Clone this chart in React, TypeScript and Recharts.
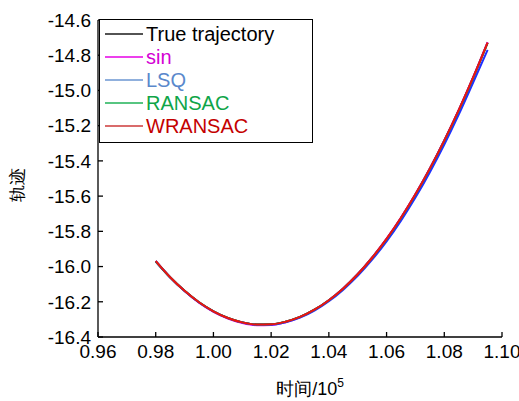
import React from 'react';
import { LineChart, Line, XAxis, YAxis } from 'recharts';

const xValues = [0.980, 0.985, 0.990, 0.995, 1.000, 1.005, 1.010, 1.015, 1.020, 1.025, 1.030, 1.035, 1.040, 1.045, 1.050, 1.055, 1.060, 1.065, 1.070, 1.075, 1.080, 1.085, 1.090, 1.095];
const trueTraj = [-15.970, -16.061, -16.138, -16.203, -16.254, -16.292, -16.317, -16.329, -16.328, -16.313, -16.286, -16.245, -16.191, -16.124, -16.044, -15.950, -15.844, -15.724, -15.591, -15.445, -15.286, -15.114, -14.928, -14.730];
const sinFit = [-15.968, -16.060, -16.139, -16.205, -16.257, -16.295, -16.321, -16.333, -16.332, -16.316, -16.288, -16.246, -16.191, -16.123, -16.042, -15.948, -15.841, -15.721, -15.588, -15.441, -15.282, -15.110, -14.924, -14.725];
const lsqFit = [-15.972, -16.062, -16.139, -16.204, -16.255, -16.293, -16.318, -16.330, -16.330, -16.316, -16.290, -16.250, -16.197, -16.131, -16.053, -15.961, -15.857, -15.739, -15.608, -15.464, -15.307, -15.137, -14.955, -14.770];
const ransacFit = [-15.970, -16.061, -16.138, -16.203, -16.254, -16.292, -16.317, -16.329, -16.328, -16.313, -16.286, -16.245, -16.191, -16.124, -16.044, -15.950, -15.844, -15.724, -15.591, -15.445, -15.286, -15.114, -14.928, -14.730];
const wransacFit = [-15.969, -16.061, -16.138, -16.203, -16.254, -16.292, -16.317, -16.329, -16.328, -16.313, -16.286, -16.245, -16.191, -16.124, -16.044, -15.950, -15.843, -15.723, -15.590, -15.444, -15.285, -15.112, -14.926, -14.728];

const xTicks = [0.96, 0.98, 1.0, 1.02, 1.04, 1.06, 1.08, 1.1];
const yTicks = [-16.4, -16.2, -16.0, -15.8, -15.6, -15.4, -15.2, -15.0, -14.8, -14.6];

const legendItems = [
    { name: 'True trajectory', line: '#1a1a1a', text: '#000000' },
    { name: 'sin', line: '#e600e6', text: '#d400d4' },
    { name: 'LSQ', line: '#6b96d2', text: '#5a88cc' },
    { name: 'RANSAC', line: '#1fb257', text: '#0fa548' },
    { name: 'WRANSAC', line: '#cc3a3a', text: '#c40000' },
];

const data = xValues.map((x, i) => ({
    x,
    trueTraj: trueTraj[i],
    sin: sinFit[i],
    lsq: lsqFit[i],
    ransac: ransacFit[i],
    wransac: wransacFit[i],
}));

const FONT = '"Liberation Sans", Arial, sans-serif';

const LegendBox = () => (
    <div style={{ position: 'absolute', left: 99, top: 19, width: 214, height: 124, background: '#fff', border: '1px solid #000', boxSizing: 'border-box', fontFamily: FONT, fontSize: 20, paddingTop: 3 }}>
        {legendItems.map((it) => (
            <div key={it.name} style={{ display: 'flex', alignItems: 'center', height: 22.8, lineHeight: '22px' }}>
                <svg width={47} height={4} style={{ marginLeft: 5 }}>
                    <line x1={0} y1={2} x2={38} y2={2} stroke={it.line} strokeWidth={1.5} />
                </svg>
                <span style={{ color: it.text, marginLeft: -6 }}>{it.name}</span>
            </div>
        ))}
    </div>
);

const XLabel = (props: any) => {
    const { viewBox } = props;
    const cx = viewBox.x + viewBox.width / 2 + 10;
    return (
        <text x={cx} y={395} textAnchor="middle" fontSize={18} fontFamily={FONT} fill="#000">
            时间/10<tspan fontSize={12} dy={-8}>5</tspan>
        </text>
    );
};

const YLabel = () => (
    <text x={23} y={185} textAnchor="middle" fontSize={17} fontFamily={FONT} fill="#000" transform="rotate(-90 23 185)">
        轨迹
    </text>
);

const App: React.FC = () => {
    const tickStyle = { fill: '#000', fontSize: 19, fontFamily: FONT };
    return (
        <div style={{ position: 'absolute', left: 0, top: 0, width: 519, height: 401, background: '#fff' }}>
            <LineChart width={519} height={401} data={data} margin={{ top: 20, right: 17, bottom: 0, left: 0 }}>
                <XAxis
                    dataKey="x"
                    type="number"
                    domain={[0.96, 1.1]}
                    ticks={xTicks}
                    tickFormatter={(v) => v.toFixed(2)}
                    allowDataOverflow
                    interval={0}
                    height={64}
                    tick={tickStyle}
                    stroke="#000"
                    strokeWidth={1.3}
                    tickSize={-5}
                    tickMargin={13}
                    label={<XLabel />}
                />
                <XAxis
                    xAxisId="top"
                    orientation="top"
                    dataKey="x"
                    type="number"
                    domain={[0.96, 1.1]}
                    ticks={xTicks}
                    interval={0}
                    height={0}
                    tick={false}
                    stroke="#000"
                    strokeWidth={1.3}
                    tickSize={-5}
                />
                <YAxis
                    type="number"
                    domain={[-16.4, -14.6]}
                    ticks={yTicks}
                    tickFormatter={(v) => v.toFixed(1)}
                    allowDataOverflow
                    interval={0}
                    width={98}
                    tick={tickStyle}
                    stroke="#000"
                    strokeWidth={1.3}
                    tickSize={-5}
                    tickMargin={12}
                    label={<YLabel />}
                />
                <YAxis
                    yAxisId="right"
                    orientation="right"
                    type="number"
                    domain={[-16.4, -14.6]}
                    ticks={yTicks}
                    interval={0}
                    width={0}
                    tick={false}
                    stroke="#000"
                    strokeWidth={1.3}
                    tickSize={-5}
                />
                <Line type="monotone" dataKey="trueTraj" name="True trajectory" stroke="#000000" strokeWidth={2} dot={false} isAnimationActive={false} />
                <Line type="monotone" dataKey="sin" name="sin" stroke="#ff00ff" strokeWidth={2} dot={false} isAnimationActive={false} />
                <Line type="monotone" dataKey="lsq" name="LSQ" stroke="#1f2fff" strokeWidth={2} dot={false} isAnimationActive={false} />
                <Line type="monotone" dataKey="ransac" name="RANSAC" stroke="#00b050" strokeWidth={2} dot={false} isAnimationActive={false} />
                <Line type="monotone" dataKey="wransac" name="WRANSAC" stroke="#ee1111" strokeWidth={2} dot={false} isAnimationActive={false} />
            </LineChart>
            <LegendBox />
        </div>
    );
};

export default App;
